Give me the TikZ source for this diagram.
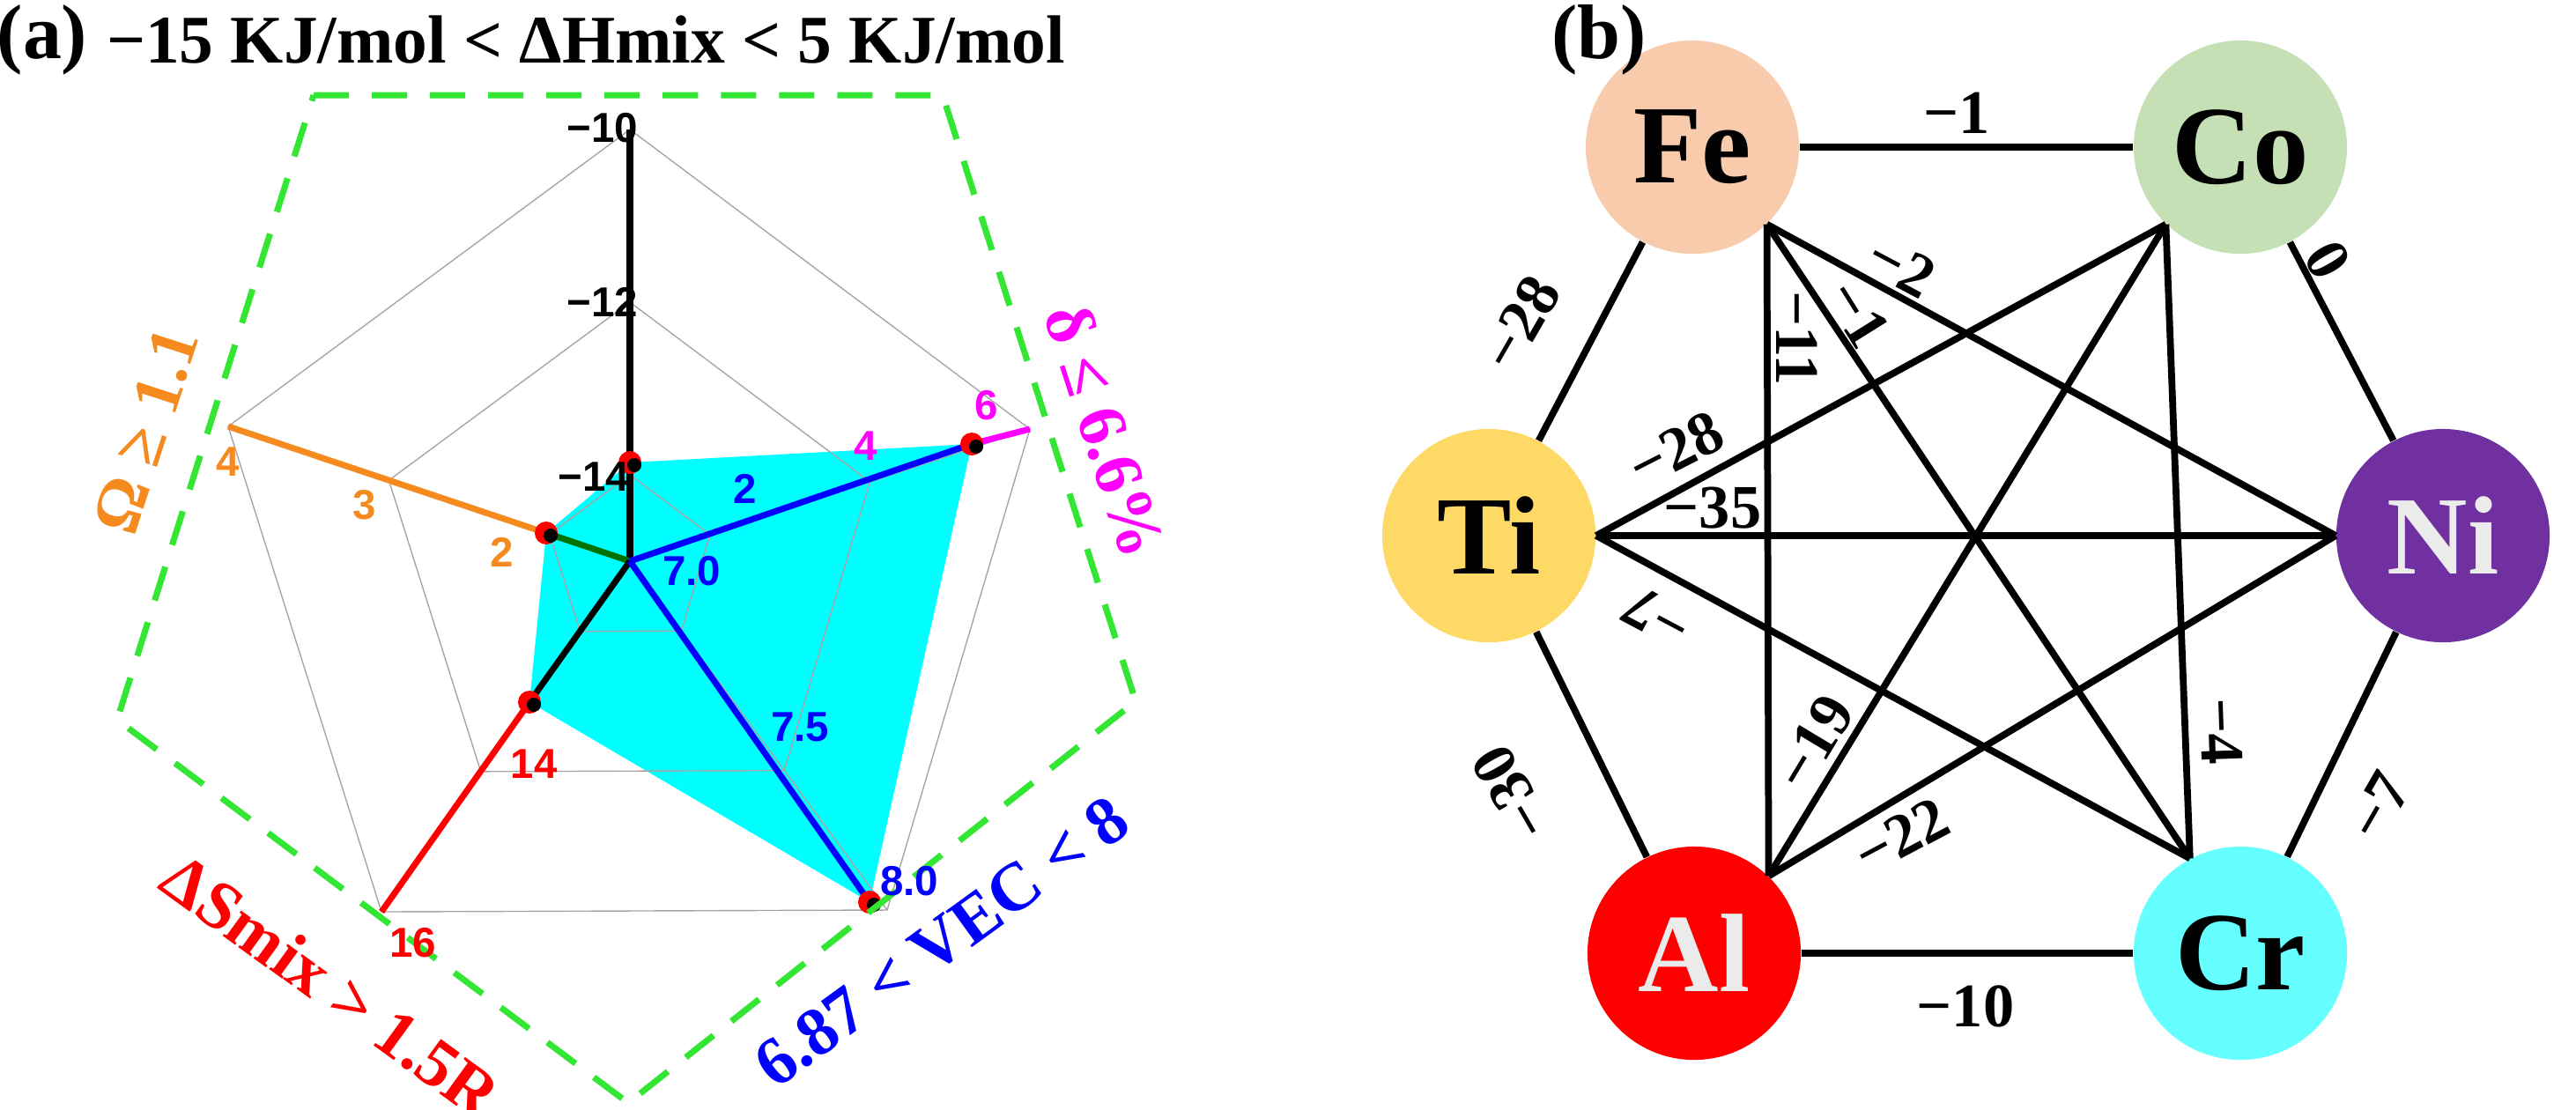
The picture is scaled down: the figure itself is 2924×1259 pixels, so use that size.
\documentclass[tikz,border=0pt]{standalone}
\usepackage{fontspec}
\setmainfont{Liberation Serif}
\newfontfamily\sansf{Liberation Sans}
\usetikzlibrary{calc}
\definecolor{gdash}{HTML}{33E633}
\definecolor{cfe}{HTML}{F7CBAC}
\definecolor{cco}{HTML}{C5E0B4}
\definecolor{cti}{HTML}{FFD966}
\definecolor{cni}{HTML}{7030A0}
\definecolor{cal}{HTML}{FF0000}
\definecolor{ccr}{HTML}{66FFFF}
\definecolor{ccyan}{HTML}{00FFFF}
\definecolor{corange}{HTML}{F58A1F}
\definecolor{cmag}{HTML}{FF00FF}
\begin{document}
\begin{tikzpicture}[x=0.01cm,y=-0.01cm,
  el/.style={circle,minimum size=2.42cm,inner sep=0pt,font=\fontsize{36}{36}\selectfont\bfseries},
  ed/.style={line width=2.2pt,black},
  lab/.style={font=\fontsize{20}{20}\selectfont\bfseries,inner sep=1pt},
  ax/.style={font=\sansf\fontsize{13.5}{13.5}\selectfont\bfseries,inner sep=1pt},
  side/.style={font=\fontsize{22}{22}\selectfont\bfseries,inner sep=1pt},
  grid/.style={gray!70,line width=0.4pt}]
\useasboundingbox (0,0) rectangle (2924,1259);
% ---------- panel (a)
\coordinate (C) at (715,637);
\coordinate (V0) at (715,147);
\coordinate (V1) at (1169,487);
\coordinate (V2) at (1007,1033);
\coordinate (V3) at (433,1035);
\coordinate (V4) at (259,484);
\coordinate (D0) at (715,525);
\coordinate (D1) at (1103,504);
\coordinate (D2) at (987,1024);
\coordinate (D3) at (601,797);
\coordinate (D4) at (620,605);
\fill[ccyan] (D0)--(D1)--(D2)--(D3)--(D4)--cycle;
\foreach \f in {0.2,0.6,1.0}{
  \draw[grid] ($(C)!\f!(V0)$)--($(C)!\f!(V1)$)--($(C)!\f!(V2)$)--($(C)!\f!(V3)$)--($(C)!\f!(V4)$)--cycle;}
\draw[grid] (C)--(V1) (C)--(V2) (C)--(V3) (C)--(V4);
\draw[line width=2pt,black] (C)--(V0);
\draw[line width=2pt,corange] (V4)--(D4);
\draw[line width=2pt,green!45!black] (D4)--(C);
\draw[line width=2pt,red] (V3)--(D3);
\draw[line width=2pt,black] (D3)--(C);
\draw[line width=2pt,cmag] (V1)--(D1);
\draw[line width=2pt,blue] (D1)--(C) (C)--(D2);
\foreach \p in {D0,D1,D2,D3,D4}{\fill[red] (\p) circle (0.13cm); \fill[black] ($(\p)+(5,3)$) circle (0.08cm);}
\draw[gdash,line width=2pt,dash pattern=on 0.4cm off 0.26cm] (356,108)--(1070,108)--(1289,796)--(713,1252)--(133,817)--cycle;
\node[ax] (t10) at (684,145) {−10};
\node[ax] (t12) at (684,343) {−12};
\node[ax] (t14) at (674,541) {−14};
\node[ax,corange] (o4) at (259,524) {4};
\node[ax,corange] (o3) at (414,573) {3};
\node[ax,corange] (o2) at (570,627) {2};
\node[ax,blue] (d2) at (846,555) {2};
\node[ax,cmag] (d4) at (983,506) {4};
\node[ax,cmag] (d6) at (1120,460) {6};
\node[ax,blue] (v70) at (785,648) {7.0};
\node[ax,blue] (v75) at (908,825) {7.5};
\node[ax,blue] (v80) at (1032,1000) {8.0};
\node[ax,red] (s14) at (606,867) {14};
\node[ax,red] (s16) at (469,1070) {16};
\node[font=\fontsize{25}{25}\selectfont\bfseries] (ta) at (48,45) {(a)};
\node[font=\fontsize{22}{22}\selectfont\bfseries] (title) at (665,45) {−15 KJ/mol < ΔHmix < 5 KJ/mol};
\node[side,corange,rotate=72] (sO) at (166,489) {Ω ≥ 1.1};
\node[side,cmag,rotate=-72] (sD) at (1255,489) {δ ≤ 6.6\%};
\node[side,red,rotate=-36] (sS) at (376,1119) {ΔSmix > 1.5R};
\node[side,blue,rotate=36] (sV) at (1069,1069) {6.87 < VEC < 8};
% ---------- panel (b)
\node[el,fill=cfe] (Fe) at (1921,167) {Fe};
\node[el,fill=cco] (Co) at (2543,167) {Co};
\node[el,fill=cti] (Ti) at (1690,608) {Ti};
\node[el,fill=cni,text=white!92!black] (Ni) at (2773,608) {Ni};
\node[el,fill=cal,text=white!92!black] (Al) at (1923,1082) {Al};
\node[el,fill=ccr] (Cr) at (2543,1082) {Cr};
\node[font=\fontsize{25}{25}\selectfont\bfseries] (tb) at (1815,45) {(b)};
\draw[ed] (Fe)--(Co); \draw[ed] (Co)--(Ni); \draw[ed] (Ni)--(Cr);
\draw[ed] (Cr)--(Al); \draw[ed] (Al)--(Ti); \draw[ed] (Ti)--(Fe);
\draw[ed] (Fe.-46)--(Al.46);
\draw[ed] (Fe.-46)--(Ni.180);
\draw[ed] (Fe.-46)--(Cr.118);
\draw[ed] (Co.-134)--(Ti.0);
\draw[ed] (Co.-134)--(Al.46);
\draw[ed] (Co.-134)--(Cr.118);
\draw[ed] (Ti.0)--(Ni.180);
\draw[ed] (Ti.0)--(Cr.118);
\draw[ed] (Ni.180)--(Al.46);
\node[lab] (l1) at (2221,128) {−1};
\node[lab,rotate=60] (l2) at (1726,367) {−28};
\node[lab,rotate=-60] (l3) at (2642,295) {0};
\node[lab,rotate=60] (l4) at (2700,915) {−7};
\node[lab] (l5) at (2231,1142) {−10};
\node[lab,rotate=120] (l6) at (1716,900) {−30};
\node[lab,rotate=27] (l7) at (1902,510) {−28};
\node[lab] (l8) at (1944,577) {−35};
\node[lab,rotate=-90] (l9) at (2040,384) {−11};
\node[lab,rotate=-58] (l10) at (2109,356) {−1};
\node[lab,rotate=-28] (l11) at (2158,303) {−2};
\node[lab,rotate=152] (l12) at (1881,700) {−7};
\node[lab,rotate=59] (l13) at (2059,843) {−19};
\node[lab,rotate=28] (l14) at (2158,949) {−22};
\node[lab,rotate=-88] (l15) at (2522,830) {−4};
\end{tikzpicture}
\end{document}
